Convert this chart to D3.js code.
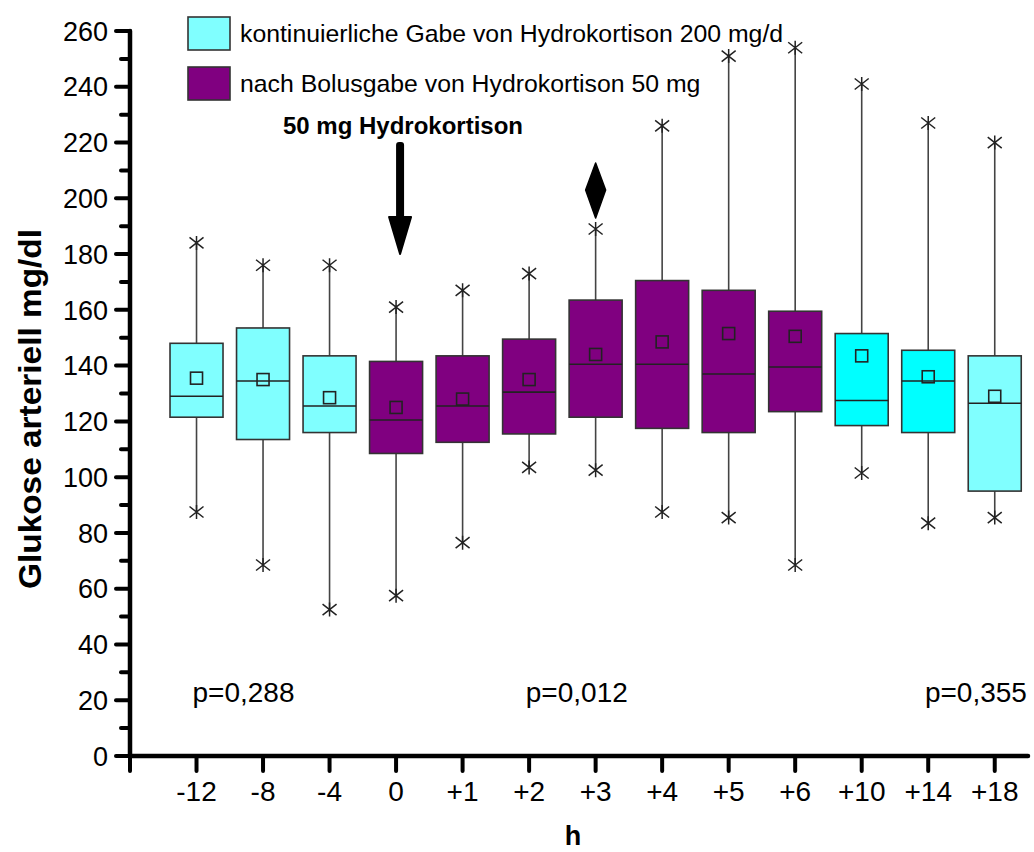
<!DOCTYPE html>
<html>
<head>
<meta charset="utf-8">
<script src="https://cdn.jsdelivr.net/npm/d3@7"></script>
<style>
	body { margin: 0; background: #fff; }
	svg { display: block; font-family: Arial, "Liberation Sans", sans-serif; }
	.whisker { stroke: #444; stroke-width: 1.6; }
	.box { stroke: #333; stroke-width: 1.6; }
	.median { stroke: #222; stroke-width: 1.6; }
	.mean { fill: none; stroke: #222; stroke-width: 1.6; }
	.star { fill: none; stroke: #222; stroke-width: 1.5; }
	.axis-line { stroke: #000; stroke-width: 4.5; stroke-linecap: round; }
</style>
</head>
<body>
<div id="chart"></div>
<script>
(function () {'use strict';

// DATA
var hours   = ['-12', '-8', '-4', '0', '+1', '+2', '+3', '+4', '+5', '+6', '+10', '+14', '+18'];
var groups  = ['kont', 'kont', 'kont', 'bolus', 'bolus', 'bolus', 'bolus', 'bolus', 'bolus', 'bolus', 'kont', 'kont', 'kont'];
var maxVals = [184, 176, 176, 161, 167, 173, 189, 226, 251, 254, 241, 227, 220];
var q3Vals  = [148, 153.5, 143.5, 141.5, 143.5, 149.5, 163.5, 170.5, 167, 159.5, 151.5, 145.5, 143.5];
var medians = [129, 134.5, 125.5, 120.5, 125.5, 130.5, 140.5, 140.5, 137, 139.5, 127.5, 134.5, 126.5];
var means   = [135.5, 135, 128.5, 125, 128, 135, 144, 148.5, 151.5, 150.5, 143.5, 136, 129];
var q1Vals  = [121.5, 113.5, 116, 108.5, 112.5, 115.5, 121.5, 117.5, 116, 123.5, 118.5, 116, 95];
var minVals = [87.5, 68.5, 52.5, 57.5, 76.5, 103.5, 102.5, 87.5, 85.5, 68.5, 101.5, 83.5, 85.5];

var yTicks      = d3.range(0, 261, 20);
var yMinorTicks = d3.range(10, 260, 20);

var legendLabels = [
	'kontinuierliche Gabe von Hydrokortison 200 mg/d',
	'nach Bolusgabe von Hydrokortison 50 mg'
];
var pLabels    = ['p=0,288', 'p=0,012', 'p=0,355'];
var bolusHour  = '0';
var signifHour = '+3';
var doseText   = '50 mg Hydrokortison';

// STYLE
var colors = { kont: '#80ffff', bolus: '#800080' },
	brightCyan = ['+10', '+14'],
	pPos = [-0.06, 4.95, 10.95];   // left edge of the p labels, in box-index units

var width = 1034,
	height = 852,
	x = d3.scaleLinear().domain([-1, hours.length - 0.5]).range([130, 1028]),
	y = d3.scaleLinear().domain([0, 260]).range([756, 31]),
	boxW = 53;

var svg = d3.select('#chart')
	.append('svg')
		.attr('width', width)
		.attr('height', height);

var data = hours.map(function (h, i) {
	return {
		hour   : h,
		index  : i,
		group  : groups[i],
		max    : maxVals[i],
		q3     : q3Vals[i],
		median : medians[i],
		mean   : means[i],
		q1     : q1Vals[i],
		min    : minVals[i]
	};
});

function fillOf(d) {
	if (d.group === 'kont' && brightCyan.indexOf(d.hour) >= 0) return '#00ffff';
	return colors[d.group];
}

/* BOXES */
var box = svg.append('g').attr('class', 'boxes')
	.selectAll('g')
	.data(data)
	.enter().append('g')
		.attr('transform', function (d) { return 'translate(' + x(d.index) + ',0)'; });

box.append('line')
	.attr('class', 'whisker')
	.attr('x1', 0).attr('x2', 0)
	.attr('y1', function (d) { return y(d.max); })
	.attr('y2', function (d) { return y(d.q3); });

box.append('line')
	.attr('class', 'whisker')
	.attr('x1', 0).attr('x2', 0)
	.attr('y1', function (d) { return y(d.q1); })
	.attr('y2', function (d) { return y(d.min); });

box.append('rect')
	.attr('class', 'box')
	.attr('x', -boxW / 2)
	.attr('width', boxW)
	.attr('y', function (d) { return y(d.q3); })
	.attr('height', function (d) { return y(d.q1) - y(d.q3); })
	.attr('fill', fillOf);

box.append('line')
	.attr('class', 'median')
	.attr('x1', -boxW / 2).attr('x2', boxW / 2)
	.attr('y1', function (d) { return y(d.median); })
	.attr('y2', function (d) { return y(d.median); });

box.append('rect')
	.attr('class', 'mean')
	.attr('x', -6).attr('width', 12)
	.attr('y', function (d) { return y(d.mean) - 6; })
	.attr('height', 12);

// star markers at whisker ends
var starPath = 'M-7,-5.5L7,5.5M-7,5.5L7,-5.5M0,-7L0,7';
box.selectAll('path.star')
	.data(function (d) { return [d.max, d.min]; })
	.enter().append('path')
		.attr('class', 'star')
		.attr('transform', function (v) { return 'translate(0,' + y(v) + ')'; })
		.attr('d', starPath);

/* AXES */
var axis = svg.append('g').attr('class', 'axes');

axis.selectAll('line.ytick')
	.data(yTicks)
	.enter().append('line')
		.attr('class', 'axis-line ytick')
		.attr('x1', 116).attr('x2', 130)
		.attr('y1', function (d) { return y(d); })
		.attr('y2', function (d) { return y(d); })
		.style('stroke-width', 4);

axis.selectAll('line.ymtick')
	.data(yMinorTicks)
	.enter().append('line')
		.attr('class', 'axis-line ymtick')
		.attr('x1', 121).attr('x2', 130)
		.attr('y1', function (d) { return y(d); })
		.attr('y2', function (d) { return y(d); })
		.style('stroke-width', 4);

axis.selectAll('text.ylabel')
	.data(yTicks)
	.enter().append('text')
		.attr('class', 'ylabel')
		.attr('x', 108)
		.attr('y', function (d) { return y(d); })
		.attr('dy', '0.36em')
		.attr('text-anchor', 'end')
		.style('font-size', '27px')
		.text(function (d) { return d; });

axis.selectAll('line.xtick')
	.data(d3.range(-1, hours.length))
	.enter().append('line')
		.attr('class', 'axis-line xtick')
		.attr('x1', function (d) { return x(d); })
		.attr('x2', function (d) { return x(d); })
		.attr('y1', y(0))
		.attr('y2', y(0) + 15)
		.style('stroke-width', 4);

axis.selectAll('text.xlabel')
	.data(data)
	.enter().append('text')
		.attr('class', 'xlabel')
		.attr('x', function (d) { return x(d.index); })
		.attr('y', 801)
		.attr('text-anchor', 'middle')
		.style('font-size', '28px')
		.text(function (d) { return d.hour; });

axis.append('line')
	.attr('class', 'axis-line')
	.attr('x1', x(-1)).attr('x2', x(-1))
	.attr('y1', y(260)).attr('y2', y(0));

axis.append('line')
	.attr('class', 'axis-line')
	.attr('x1', x(-1)).attr('x2', x(hours.length - 0.5))
	.attr('y1', y(0)).attr('y2', y(0));

// axis titles
svg.append('text')
	.attr('transform', 'translate(41,409) rotate(-90)')
	.attr('text-anchor', 'middle')
	.attr('textLength', 360)
	.attr('lengthAdjust', 'spacingAndGlyphs')
	.style('font-size', '31px')
	.style('font-weight', 'bold')
	.text('Glukose arteriell mg/dl');

svg.append('text')
	.attr('x', 573)
	.attr('y', 845)
	.attr('text-anchor', 'middle')
	.style('font-size', '27px')
	.style('font-weight', 'bold')
	.text('h');

/* LEGEND */
var legend = svg.append('g').attr('class', 'legend')
	.selectAll('g')
	.data(legendLabels)
	.enter().append('g')
		.attr('transform', function (d, i) { return 'translate(188,' + (17 + i * 50) + ')'; });

legend.append('rect')
	.attr('class', 'box')
	.attr('width', 42)
	.attr('height', 33)
	.attr('fill', function (d, i) { return i === 0 ? colors.kont : colors.bolus; });

legend.append('text')
	.attr('x', 52)
	.attr('y', 25)
	.style('font-size', '24.8px')
	.text(function (d) { return d; });

/* ANNOTATIONS */
var ax = x(hours.indexOf(bolusHour)) + 4;
svg.append('text')
	.attr('x', 403)
	.attr('y', 134)
	.attr('text-anchor', 'middle')
	.style('font-size', '24px')
	.style('font-weight', 'bold')
	.text(doseText);

svg.append('rect')
	.attr('x', ax - 4)
	.attr('y', 142)
	.attr('width', 8)
	.attr('height', 80)
	.attr('rx', 3)
	.attr('fill', '#000');

svg.append('path')
	.attr('d', 'M' + (ax - 11) + ',217 L' + (ax + 11) + ',217 L' + ax + ',254 Z')
	.attr('fill', '#000')
	.attr('stroke', '#000')
	.attr('stroke-width', 2)
	.attr('stroke-linejoin', 'round');

var dx = x(hours.indexOf(signifHour));
svg.append('path')
	.attr('d', 'M' + dx + ',163 L' + (dx + 10) + ',190 L' + dx + ',218 L' + (dx - 10) + ',190 Z')
	.attr('fill', '#000')
	.attr('stroke', '#000')
	.attr('stroke-width', 1.5)
	.attr('stroke-linejoin', 'round');

svg.selectAll('text.pval')
	.data(pLabels)
	.enter().append('text')
		.attr('class', 'pval')
		.attr('x', function (d, i) { return x(pPos[i]); })
		.attr('y', 702)
		.style('font-size', '28px')
		.text(function (d) { return d; });

})();
</script>
</body>
</html>
